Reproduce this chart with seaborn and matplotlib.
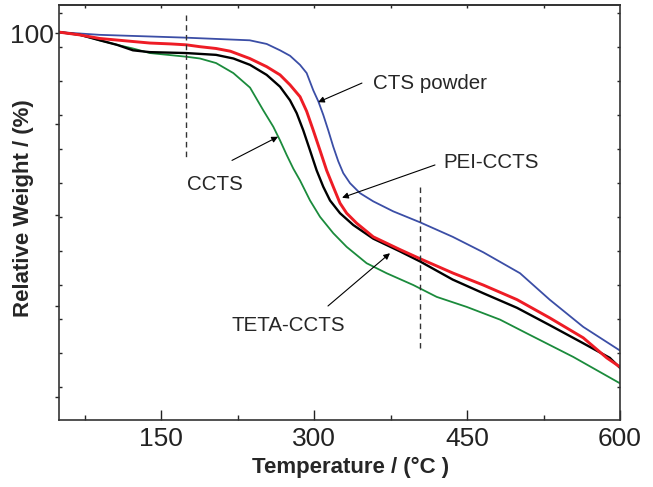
import numpy as np
import pandas as pd
import matplotlib
matplotlib.use("Agg")
import matplotlib.pyplot as plt
from matplotlib.ticker import FixedLocator, FixedFormatter
import seaborn as sns

# ---- data ----
cts_T = [50, 90, 172, 237, 253.6, 266.7, 276.5, 286.3, 292.8, 299.3, 304.2, 309.1, 314, 318.9, 323.8,
         328.7, 335.3, 345.1, 358.1, 377.7, 403.9, 436, 466, 502, 531, 564, 600]
cts_W = [100.1, 99.8, 99.5, 99.2, 98.8, 98.1, 97.5, 96.5, 95.6, 93.7, 92.5, 91.0, 89.3, 87.5, 85.9,
         84.6, 83.5, 82.4, 81.5, 80.4, 79.2, 77.6, 75.9, 73.6, 70.7, 67.7, 65.1]

pei_T = [50, 70, 90, 139, 160, 175, 188, 204, 218, 237, 253.6, 266.7, 276.5, 286.3, 292.8, 299.3, 305.9,
         312.4, 318.9, 325.5, 332, 341.8, 358.1, 384.3, 403.9, 436.6, 466, 499, 531, 564, 587, 600]
pei_W = [100.1, 99.8, 99.4, 98.9, 98.8, 98.7, 98.5, 98.3, 98.0, 97.2, 96.3, 95.4, 94.3, 93.0, 91.4, 89.3, 87.1,
         84.9, 83.1, 81.3, 80.2, 79.1, 77.6, 76.2, 75.2, 73.6, 72.3, 70.7, 68.7, 66.5, 64.3, 63.3]

ccts_T = [50, 70.6, 90, 106.9, 122.5, 139, 174.5, 204, 221, 237.3, 253.6, 266.7, 276.5, 283, 289.5, 296.1,
          302.6, 309.1, 315.7, 325.5, 338.5, 358.1, 384.3, 403.9, 436, 466, 499, 531, 564, 590, 600]
ccts_W = [100.1, 99.8, 99.2, 98.7, 98.1, 97.9, 97.8, 97.6, 97.2, 96.5, 95.4, 94.1, 92.6, 91.2, 89.3, 87.1,
          84.9, 83.1, 81.6, 80.2, 78.9, 77.4, 76.0, 74.9, 72.9, 71.4, 69.8, 67.9, 65.9, 64.3, 63.2]

teta_T = [50, 70.6, 90, 107, 122.5, 139, 174.5, 188.2, 204, 220.9, 237.3, 250.3, 260.1, 266.7, 273.2, 279.7,
          286.3, 296.1, 305.9, 318.9, 332, 351.6, 371.2, 397.4, 420.3, 449.7, 482.4, 508.5, 554.2, 600]
teta_W = [100.1, 99.8, 99.2, 98.7, 98.3, 97.8, 97.4, 97.2, 96.7, 95.6, 94.0, 91.5, 89.7, 88.2, 86.6, 85.1,
          83.8, 81.6, 79.8, 78.0, 76.5, 74.7, 73.6, 72.3, 71.0, 69.9, 68.5, 67.0, 64.4, 61.5]

x_ticks = [150, 300, 450, 600]
x_tick_labels = ["150", "300", "450", "600"]
y_ticks = [60, 70, 80, 90, 100]
y_tick_labels = ["", "", "", "", "100"]

labels = ["CTS powder", "PEI-CCTS", "CCTS", "TETA-CCTS"]

# ---- style ----
sns.set_theme(style="ticks")
plt.rcParams["font.family"] = ["Liberation Sans", "DejaVu Sans"]

fig = plt.figure(figsize=(6.53, 4.87), dpi=100)
ax = fig.add_axes([59/653, 1-420/487, 561/653, 415/487])

series = [
    (teta_T, teta_W, "TETA-CCTS", "#1b8b3c", 1.3),
    (cts_T, cts_W, "CTS powder", "#3b4ea6", 1.3),
    (ccts_T, ccts_W, "CCTS", "#000000", 1.7),
    (pei_T, pei_W, "PEI-CCTS", "#ee1c25", 2.1),
]
for T, W, name, col, lw in series:
    df = pd.DataFrame({"T": T, "W": W})
    sns.lineplot(data=df, x="T", y="W", ax=ax, color=col, linewidth=lw,
                 estimator=None, sort=False)

ax.set_xlim(50, 600)
ax.set_ylim(57.47, 103.08)

# dashed markers
ax.plot([174.5, 174.5], [102.0, 86.4], ls=(0, (4, 3)), color="#333333", lw=1.0)
ax.plot([404, 404], [83.1, 65.4], ls=(0, (4, 3)), color="#333333", lw=1.0)

# annotations
arrow = dict(arrowstyle="-|>", color="black", lw=0.8, mutation_scale=9,
             shrinkA=0, shrinkB=0)
fs = 14.8
ax.annotate("", xy=(304, 92.4), xytext=(347, 94.5), arrowprops=arrow)
ax.text(357.8, 94.5, "CTS powder", fontsize=fs, va="center", ha="left")
ax.annotate("", xy=(327.5, 81.9), xytext=(418.6, 85.5), arrowprops=arrow)
ax.text(426.5, 85.8, "PEI-CCTS", fontsize=fs, va="center", ha="left")
ax.annotate("", xy=(264.7, 88.6), xytext=(219.6, 86.0), arrowprops=arrow)
ax.text(203, 83.3, "CCTS", fontsize=fs, va="center", ha="center")
ax.annotate("", xy=(374.5, 75.8), xytext=(313.7, 70.0), arrowprops=arrow)
ax.text(274.5, 67.9, "TETA-CCTS", fontsize=fs, va="center", ha="center")

# x ticks
ax.xaxis.set_major_locator(FixedLocator(x_ticks))
ax.xaxis.set_major_formatter(FixedFormatter(x_tick_labels))
ax.xaxis.set_minor_locator(FixedLocator([75, 225, 375, 525]))
ax.tick_params(axis="x", which="major", direction="in", length=7, width=1.0,
               labelsize=19, pad=5, top=False, colors="#222222")
ax.tick_params(axis="x", which="minor", direction="in", length=3.5, width=1.0,
               top=False)
secx = ax.secondary_xaxis("top")
secx.set_xticks(np.arange(75, 600, 75))
secx.tick_params(direction="in", length=2.5, width=1.0, labeltop=False)
secx.set_xticklabels([])
secx.spines["top"].set_linewidth(1.2)

# y ticks
ax.yaxis.set_major_locator(FixedLocator(y_ticks))
ax.yaxis.set_major_formatter(FixedFormatter(y_tick_labels))
ax.yaxis.set_minor_locator(FixedLocator(102.23 - 3.736*np.arange(12)))
ax.tick_params(axis="y", which="major", direction="out", length=3, width=1.0,
               labelsize=19, pad=0.5, right=False)
ax.tick_params(axis="y", which="minor", direction="in", length=2.5, width=1.0,
               left=True, right=True)

for sp in ax.spines.values():
    sp.set_linewidth(1.2)
    sp.set_color("#333333")
    sp.set_visible(True)

ax.set_xlabel("Temperature / (°C )", fontsize=16, fontweight="bold")
ax.set_ylabel("Relative Weight / (%)", fontsize=16, fontweight="bold")
ax.xaxis.set_label_coords(0.519, -0.089)
ax.yaxis.set_label_coords(-0.045, 0.51)

fig.savefig("out.png", dpi=100)
